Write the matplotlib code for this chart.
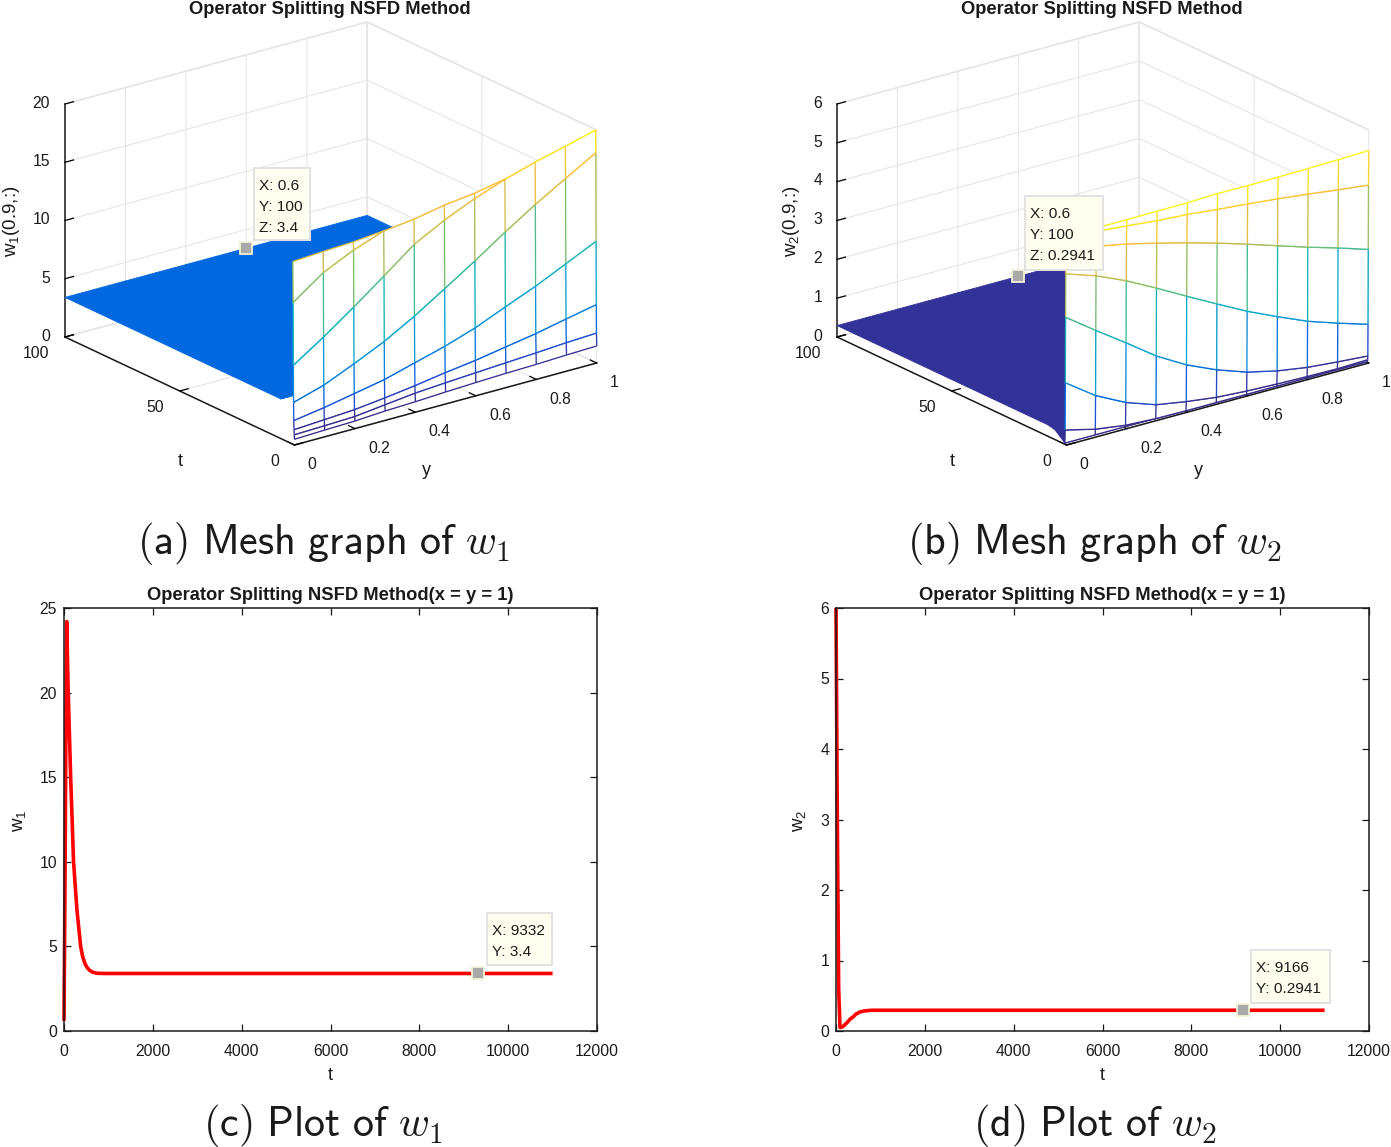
import numpy as np
import matplotlib
matplotlib.use("Agg")
import matplotlib.pyplot as plt
from matplotlib.colors import LinearSegmentedColormap, Normalize
from mpl_toolkits.mplot3d.art3d import Line3DCollection, Poly3DCollection
from mpl_toolkits.mplot3d import proj3d

W, H = 1391, 1147
plt.rcParams['font.family'] = ['Liberation Sans', 'DejaVu Sans']
plt.rcParams['mathtext.fontset'] = 'cm'
plt.rcParams['mathtext.rm'] = 'Liberation Sans'
plt.rcParams['mathtext.it'] = 'Liberation Sans:italic'
plt.rcParams['mathtext.bf'] = 'Liberation Sans:bold'
plt.rcParams['grid.color'] = '0.9'
plt.rcParams['grid.linewidth'] = 0.8

# ---------------------------------------------------------------- data
y_grid = [0, .1, .2, .3, .4, .5, .6, .7, .8, .9, 1]

t_w1 = [0, .1, .2, .3, .4, .5, .6, .7, 1, 2, 4, 6, 100]
w1_r0 = [.49, .58, .65, .81, .90, 1.03, 1.14, 1.23, 1.29, 1.39, 1.46]
w1_r1 = [.86, .93, 1.02, 1.32, 1.62, 1.80, 1.96, 2.11, 2.26, 2.43, 2.55]
w1_r2 = [1.29, 1.44, 1.60, 1.90, 2.25, 2.66, 3.01, 3.46, 3.90, 4.45, 4.98]
w1_r3 = [2.06, 2.47, 2.97, 3.47, 4.20, 4.92, 5.79, 6.89, 7.96, 9.18, 10.41]
w1_r4 = [3.61, 4.39, 5.52, 6.73, 8.20, 9.85, 11.53, 13.30, 14.97, 16.50, 18.00]
w1_r5 = [6.78, 8.51, 10.38, 12.34, 14.35, 15.73, 16.87, 17.82, 18.60, 19.25, 19.94]
w1_r6 = [12.16, 14.03, 15.26, 16.20, 16.50, 17.0, 17.32, 17.82, 18.2, 18.6, 19.0]
w1_r7 = [15.68, 15.84, 15.96, 16.20, 16.33, 16.65, 16.97, 17.38, 17.98, 18.55, 19.15]
w1_r8 = [8, 9.5, 11, 12.5, 13.5, 14.5, 15.5, 16.5, 17, 17.5, 18]
w1_r9 = [4.4, 5, 6, 7, 8, 9, 10, 11, 12, 13, 14]
w1_r10 = [3.7, 3.8, 3.9, 4.0, 4.2, 4.4, 4.6, 4.8, 5, 5.5, 6]
w1_r11 = [3.4] * 11
w1_r12 = [3.4] * 11
w1_rows = [w1_r0, w1_r1, w1_r2, w1_r3, w1_r4, w1_r5, w1_r6, w1_r7, w1_r8, w1_r9, w1_r10, w1_r11, w1_r12]

t_w2 = [0, .1, .2, .3, .4, .5, .6, .7, 1.5, 3, 5, 8, 100]
w2_r0 = [5.37, 5.38, 5.38, 5.39, 5.39, 5.42, 5.41, 5.42, 5.43, 5.45, 5.47]
w2_r1 = [5.34, 5.29, 5.22, 5.14, 5.09, 5.01, 4.94, 4.86, 4.77, 4.67, 4.58]
w2_r2 = [5.11, 4.90, 4.75, 4.56, 4.36, 4.14, 3.90, 3.65, 3.40, 3.17, 2.92]
w2_r3 = [4.40, 4.14, 3.80, 3.40, 2.98, 2.57, 2.17, 1.82, 1.49, 1.23, .99]
w2_r4 = [3.28, 2.73, 2.20, 1.65, 1.21, .87, .60, .42, .30, .23, .17]
w2_r5 = [1.59, 1.05, .66, .39, .26, .16, .11, .08, .06, .05, .07]
w2_r6 = [.37, .18, .07, .03, .02, .02, .02, .02, .02, .02, .02]
w2_r7 = [.03] * 11
w2_r8 = [.07] * 11
w2_r9 = [.15] * 11
w2_r10 = [.25] * 11
w2_r11 = [.2941] * 11
w2_r12 = [.2941] * 11
w2_rows = [w2_r0, w2_r1, w2_r2, w2_r3, w2_r4, w2_r5, w2_r6, w2_r7, w2_r8, w2_r9, w2_r10, w2_r11, w2_r12]

steps_c = [0, 15, 30, 45, 60, 95, 150, 215, 290, 375, 420, 470, 520, 580, 650, 750, 900, 11000]
w1_line = [.6, 6, 12, 19, 24.2, 20, 15, 10, 7.2, 5, 4.4, 4.0, 3.75, 3.58, 3.47, 3.41, 3.4, 3.4]
steps_d = [0, 30, 60, 90, 150, 250, 320, 385, 450, 540, 640, 800, 11000]
w2_line = [6, 3, .6, .05, .06, .12, .17, .2, .24, .27, .285, .2941, .2941]

y_ticks3d = [0, .2, .4, .6, .8, 1]
y_labels3d = ['0', '0.2', '0.4', '0.6', '0.8', '1']
t_ticks3d = [0, 50, 100]
z_ticks_a = [0, 5, 10, 15, 20]
z_ticks_b = [0, 1, 2, 3, 4, 5, 6]
x_ticks2d = [0, 2000, 4000, 6000, 8000, 10000, 12000]
y_ticks_c = [0, 5, 10, 15, 20, 25]
y_ticks_d = [0, 1, 2, 3, 4, 5, 6]

title3d = 'Operator Splitting NSFD Method'
title2d = 'Operator Splitting NSFD Method(x = y = 1)'
captions = [r'$\mathsf{(a)\ Mesh\ graph\ of\ }w_1$', r'$\mathsf{(b)\ Mesh\ graph\ of\ }w_2$',
            r'$\mathsf{(c)\ Plot\ of\ }w_1$', r'$\mathsf{(d)\ Plot\ of\ }w_2$']

parula = LinearSegmentedColormap.from_list('parula_old', [
    (0, (.2081, .1663, .5292)), (.05, (.20, .20, .60)), (.1, (.12, .31, .83)),
    (.15, (.0, .41, .88)), (.25, (.05, .55, .85)), (.37, (.03, .66, .80)),
    (.5, (.13, .72, .68)), (.62, (.45, .75, .45)), (.75, (.80, .74, .30)),
    (.87, (.99, .75, .22)), (1, (.98, .98, .05))])

# ---------------------------------------------------------------- helpers
fig = plt.figure(figsize=(W / 100, H / 100), dpi=100, facecolor='white')
FS = 11.3
INK = '0.1'


def ftext(px, py, s, **kw):
    return fig.text(px / W, 1 - py / H, s, **kw)


def view_from_corners(O, X, Y, zlen):
    ex = np.array([X[0] - O[0], O[1] - X[1]], float)
    ey = np.array([Y[0] - O[0], O[1] - Y[1]], float)
    s = np.sqrt(-(ex[1] * ey[1]) / (ex[0] * ey[0]))
    a = np.arctan((ex[1] / s) / ex[0])
    Lx = ex[0] / np.cos(a)
    Ly = -ey[0] / np.sin(a)
    Lz = zlen / np.sqrt(1 - s * s)
    return np.degrees(np.arcsin(s)), -90 - np.degrees(a), (Lx, Ly, Lz)


def fit_axes(ax, xl, yl, zl, O, X, Y, zlen):
    """Scale and place the square 3D axes so the box corners land on the wanted pixels."""
    for _ in range(3):
        ax.apply_aspect()
        M = ax.get_proj()
        def px(a, b, c):
            u, v, _w = proj3d.proj_transform(a, b, c, M)
            return ax.transData.transform((u, v))
        p0 = px(xl[0], yl[0], zl[0])
        p1 = px(xl[1], yl[0], zl[0])
        k = (X[0] - O[0]) / (p1[0] - p0[0])
        pos = ax.get_position(original=True)
        wpx = pos.width * W * k
        lx = pos.x0 * W
        ly = pos.y0 * H
        nx = O[0] - (p0[0] - lx) * k
        ny = (H - O[1]) - (p0[1] - ly) * k
        ax.set_position([nx / W, ny / H, wpx / W, wpx / H])


def mesh3d(rect, O, X, Y, zlen, t, rows, zlim, zticks, sheet_from, tip_pt):
    elev, azim, L = view_from_corners(O, X, Y, zlen)
    ax = fig.add_axes(rect, projection='3d', proj_type='ortho', computed_zorder=False)
    ax.patch.set_alpha(0)
    ax.view_init(elev=elev, azim=azim)
    ax.set_box_aspect(L)
    ax.set_xlim(0, 1); ax.set_ylim(0, 100); ax.set_zlim(*zlim)
    ax.set_xticks(y_ticks3d)
    ax.set_xticklabels(y_labels3d, fontsize=FS, ha='left', va='center', color=INK)
    ax.set_yticks(t_ticks3d)
    ax.set_yticklabels([str(v) for v in t_ticks3d], fontsize=FS, ha='right', va='center', color=INK)
    ax.set_zticks(zticks)
    ax.set_zticklabels([str(v) for v in zticks], fontsize=FS, ha='right', va='center', color=INK)
    for a in (ax.xaxis, ax.yaxis, ax.zaxis):
        a.set_pane_color((1, 1, 1, 1))
        a.pane.set_edgecolor('0.88')
        a.line.set_color(INK); a.line.set_linewidth(1.1)
        a._axinfo['tick']['inward_factor'] = 0.0
        a._axinfo['tick']['outward_factor'] = 0.35
        a._axinfo['tick']['linewidth'] = {True: 0.9, False: 0.5}
        a._axinfo['tick']['color'] = INK
    ax.tick_params(axis='x', pad=4.5)
    ax.tick_params(axis='y', pad=3)
    ax.tick_params(axis='z', pad=-2)
    fit_axes(ax, (0, 1), (0, 100), zlim, O, X, Y, zlen)

    Z = np.array(rows, float)
    xs = np.array(y_grid, float)
    ts = np.array(t, float)
    norm = Normalize(Z.min(), Z.max())
    sheet_c = parula(norm(tip_pt[2]))
    zo = 5
    n = len(ts)
    for i in range(n - 2, -1, -1):        # back to front, hidden-surface painting
        quads = [[(xs[j], ts[i], Z[i, j]), (xs[j + 1], ts[i], Z[i, j + 1]),
                  (xs[j + 1], ts[i + 1], Z[i + 1, j + 1]), (xs[j], ts[i + 1], Z[i + 1, j])]
                 for j in range(len(xs) - 1)]
        back = i >= sheet_from
        fc = sheet_c if back else 'white'
        pc = Poly3DCollection(quads, facecolors=fc, edgecolors=sheet_c if back else 'none',
                              linewidths=0.6 if back else 0, zorder=zo)
        ax.add_collection3d(pc); zo += 1
        if back:
            continue
        segs, cols = [], []
        for j in range(len(xs)):          # lines along t
            segs.append([(xs[j], ts[i], Z[i, j]), (xs[j], ts[i + 1], Z[i + 1, j])])
            cols.append(parula(norm((Z[i, j] + Z[i + 1, j]) / 2)))
        for k in (i + 1, i):              # lines along y
            for j in range(len(xs) - 1):
                segs.append([(xs[j], ts[k], Z[k, j]), (xs[j + 1], ts[k], Z[k, j + 1])])
                cols.append(parula(norm((Z[k, j] + Z[k, j + 1]) / 2)))
        ax.add_collection3d(Line3DCollection(segs, colors=cols, linewidths=0.95, zorder=zo)); zo += 1
    ax.plot([tip_pt[0]], [tip_pt[1]], [tip_pt[2]], marker='s', ms=9, mfc='#A9A9A9', mec='#F4F2D8',
            mew=1.3, ls='none', zorder=zo + 1)
    return ax


def tip(left, top, right, bottom, lines):
    fig.add_artist(plt.Rectangle((left / W, 1 - bottom / H), (right - left) / W, (bottom - top) / H,
                                 transform=fig.transFigure, fc='#FFFFF0', ec='#E2E2E2', lw=1.4, zorder=20))
    for i, s in enumerate(lines):
        ftext(left + 5, top + 18 + 21 * i, s, fontsize=11.1, ha='left', va='center', color=INK, zorder=21)


def plot2d(rect, xs, ys, ylim, yticks, mark):
    ax = fig.add_axes(rect)
    ax.plot(xs, ys, color='red', lw=2.6, solid_joinstyle='round', solid_capstyle='butt', clip_on=False)
    ax.plot([mark[0]], [mark[1]], marker='s', ms=9, mfc='#A9A9A9', mec='#F4F2D8', mew=1.3, ls='none', zorder=5)
    ax.set_xlim(0, 12000); ax.set_ylim(*ylim)
    ax.set_xticks(x_ticks2d); ax.set_yticks(yticks)
    ax.tick_params(direction='in', top=True, right=True, labelsize=FS, labelcolor=INK,
                   length=5, width=0.9, color=INK, pad=5)
    ax.tick_params(axis='x', pad=9.5)
    for sp in ax.spines.values():
        sp.set_linewidth(1.1); sp.set_color(INK)
    return ax


def rect_px(l, t, r, b):
    return [l / W, 1 - b / H, (r - l) / W, (b - t) / H]


# ---------------------------------------------------------------- panels
mesh3d([.0, .55, .45, .45], (294.5, 445), (596.7, 363), (65, 337), 233, t_w1, w1_rows,
       (0, 20), z_ticks_a, 7, (.6, 100, 3.4))
mesh3d([.5, .55, .45, .45], (1066.5, 445), (1368.7, 363), (837, 337), 233, t_w2, w2_rows,
       (0, 6), z_ticks_b, 7, (.6, 100, .2941))

plot2d(rect_px(64, 608, 597, 1031), steps_c, w1_line, (0, 25), y_ticks_c, (9332, 3.4))
plot2d(rect_px(836, 608, 1369, 1031), steps_d, w2_line, (0, 6), y_ticks_d, (9166, .2941))

# titles, labels
for cx in (330, 1102):
    ftext(cx, 9, title3d, fontsize=13.2, fontweight='bold', ha='center', va='center', color=INK)
    ftext(cx, 596, title2d, fontsize=13.2, fontweight='bold', ha='center', va='center', color=INK)
    ftext(cx, 1075, 't', fontsize=13, ha='center', va='center', color=INK)
for dx in (0, 772):
    ftext(180 + dx, 462, 't', fontsize=13, ha='center', va='center', color=INK)
    ftext(426 + dx, 470, 'y', fontsize=13, ha='center', va='center', color=INK)
lab = dict(fontsize=13.5, rotation=90, ha='center', va='center', color=INK, math_fontfamily='custom')
ftext(11, 221, r'w$_{\mathrm{1}}$(0.9,:)', **lab)
ftext(791, 221, r'w$_{\mathrm{2}}$(0.9,:)', **lab)
ftext(19, 821, r'w$_{\mathrm{1}}$', **lab)
ftext(799, 821, r'w$_{\mathrm{2}}$', **lab)

tip(254, 168, 310, 240, ['X: 0.6', 'Y: 100', 'Z: 3.4'])
tip(1025, 196, 1103, 270, ['X: 0.6', 'Y: 100', 'Z: 0.2941'])
tip(487, 913, 552, 965, ['X: 9332', 'Y: 3.4'])
tip(1251, 950, 1330, 1003, ['X: 9166', 'Y: 0.2941'])

for cx, cy, s in ((323, 554, captions[0]), (1095, 554, captions[1]), (323, 1136, captions[2]), (1095, 1136, captions[3])):
    ftext(cx, cy, s, fontsize=30.3, ha='center', va='baseline', color=INK)

fig.savefig('out.png', dpi=100)
